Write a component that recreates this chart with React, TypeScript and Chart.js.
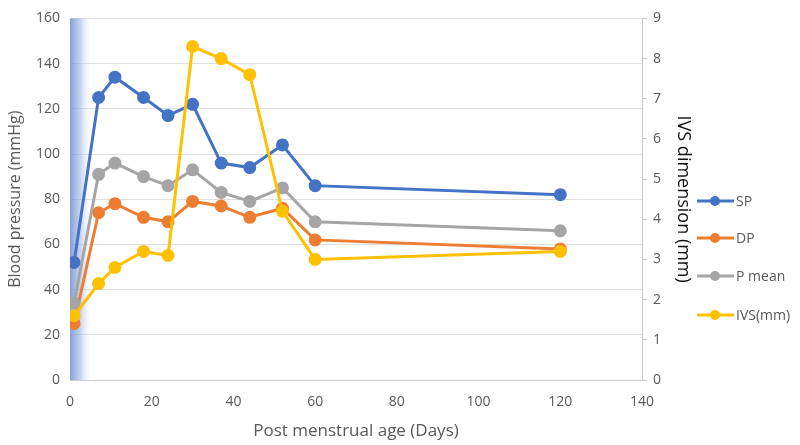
import React, { useEffect, useRef } from "react";
import { Chart, registerables } from "chart.js";

Chart.register(...registerables);

const days = [1, 7, 11, 18, 24, 30, 37, 44, 52, 60, 120];
const sp = [52, 125, 134, 125, 117, 122, 96, 94, 104, 86, 82];
const dp = [25, 74, 78, 72, 70, 79, 77, 72, 76, 62, 58];
const pMean = [34, 91, 96, 90, 86, 93, 83, 79, 85, 70, 66];
const ivs = [1.6, 2.4, 2.8, 3.2, 3.1, 8.3, 8.0, 7.6, 4.2, 3.0, 3.2];
const shadeRange = [0, 5.6];
const seriesNames = ["SP", "DP", "P mean", "IVS(mm)"];
const seriesColors = ["#4472C4", "#ED7D31", "#A5A5A5", "#FFC000"];

const FONT = "'Open Sans', 'Liberation Sans', sans-serif";

export default function App() {
  const ref = useRef<HTMLCanvasElement | null>(null);
  useEffect(() => {
    document.body.style.margin = "0";
    const ctx = ref.current!.getContext("2d")!;
    const mk = (vals: number[]) => vals.map((v, i) => ({ x: days[i], y: v }));
    const shadePlugin = {
      id: "shade",
      beforeDatasetsDraw(chart: any) {
        const { ctx: c, chartArea, scales } = chart;
        const x0 = scales.x.getPixelForValue(shadeRange[0]);
        const x1 = scales.x.getPixelForValue(shadeRange[1]);
        const g = c.createLinearGradient(x0, 0, x1, 0);
        g.addColorStop(0, "rgba(100,135,205,0.8)");
        g.addColorStop(0.45, "rgba(150,175,225,0.55)");
        g.addColorStop(1, "rgba(255,255,255,0)");
        c.save();
        c.fillStyle = g;
        c.fillRect(x0, chartArea.top, x1 - x0, chartArea.bottom - chartArea.top);
        c.restore();
      },
    };
    const legendPlugin = {
      id: "customLegend",
      afterDraw(chart: any) {
        const c = chart.ctx;
        c.save();
        const ys = [201, 238, 276, 315];
        seriesNames.forEach((n, i) => {
          const y = ys[i];
          c.strokeStyle = seriesColors[i];
          c.lineWidth = 3;
          c.beginPath();
          c.moveTo(697, y);
          c.lineTo(734, y);
          c.stroke();
          c.fillStyle = seriesColors[i];
          c.beginPath();
          c.arc(715, y, 5, 0, Math.PI * 2);
          c.fill();
          c.fillStyle = "#595959";
          c.font = `14px ${FONT}`;
          c.textBaseline = "middle";
          c.fillText(n, 736, y + 1);
        });
        c.restore();
      },
    };
    const common = { borderWidth: 3, pointRadius: 5, pointHoverRadius: 5, tension: 0 };
    const chart = new Chart(ctx, {
      type: "line",
      data: {
        datasets: [
          { label: seriesNames[0], data: mk(sp), borderColor: seriesColors[0], backgroundColor: seriesColors[0], yAxisID: "y", order: 4, ...common },
          { label: seriesNames[1], data: mk(dp), borderColor: seriesColors[1], backgroundColor: seriesColors[1], yAxisID: "y", order: 3, ...common },
          { label: seriesNames[2], data: mk(pMean), borderColor: seriesColors[2], backgroundColor: seriesColors[2], yAxisID: "y", order: 2, ...common },
          { label: seriesNames[3], data: mk(ivs), borderColor: seriesColors[3], backgroundColor: seriesColors[3], yAxisID: "y1", order: 1, ...common },
        ],
      },
      options: {
        animation: false,
        responsive: false,
        maintainAspectRatio: false,
        layout: { padding: { top: -4, right: 106, left: 0, bottom: 0 } },
        plugins: { legend: { display: false }, tooltip: { enabled: false } },
        scales: {
          x: {
            type: "linear",
            min: 0,
            max: 140,
            ticks: { stepSize: 20, color: "#595959", font: { size: 14, family: FONT }, padding: 6 },
            grid: { display: false },
            border: { display: true, color: "#D0D0D0", width: 1 },
            title: { display: true, text: "Post menstrual age (Days)", color: "#595959", font: { size: 17, family: FONT }, padding: { top: 3 } },
            afterFit: (s: any) => { s.height = 65; },
          },
          y: {
            position: "left",
            min: 0,
            max: 160,
            ticks: { stepSize: 20, color: "#595959", font: { size: 14, family: FONT }, padding: 10 },
            grid: { color: "#E0E0E0", drawTicks: false, lineWidth: 1 },
            border: { display: false },
            title: { display: true, text: "Blood pressure (mmHg)", color: "#595959", font: { size: 16, family: FONT }, padding: { top: 6, bottom: 0 } },
            afterFit: (s: any) => { s.width = 70; },
          },
          y1: {
            position: "right",
            min: 0,
            max: 9,
            ticks: { stepSize: 1, color: "#595959", font: { size: 14, family: FONT }, padding: 6 },
            grid: { drawOnChartArea: false, drawTicks: true, tickLength: 5, color: "#C8C8C8" },
            border: { display: true, color: "#C8C8C8", width: 1 },
            title: { display: true, text: "IVS dimension (mm)", color: "#111", font: { size: 18, family: FONT }, padding: { top: 0, bottom: 0 } },
            afterFit: (s: any) => { s.width = 52; },
          },
        },
      },
      plugins: [shadePlugin, legendPlugin],
    });
    return () => chart.destroy();
  }, []);
  return (
    <div style={{ width: 800, height: 445 }}>
      <canvas ref={ref} width={800} height={445} style={{ display: "block", width: 800, height: 445 }} />
    </div>
  );
}
